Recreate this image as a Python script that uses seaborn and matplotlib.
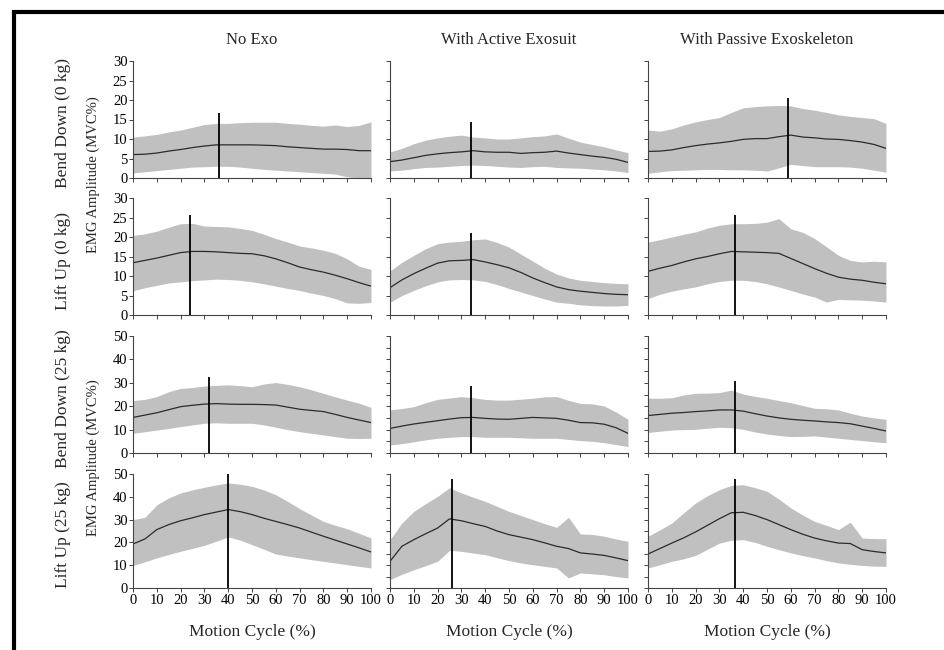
import numpy as np
import pandas as pd
import matplotlib
matplotlib.use("Agg")
import matplotlib.pyplot as plt
import seaborn as sns
from matplotlib.patches import Rectangle

# eje x comun (ciclo de movimiento, cada 5 %)
cycle = [0, 5, 10, 15, 20, 25, 30, 35, 40, 45, 50, 55, 60, 65, 70, 75, 80, 85, 90, 95, 100]

col_titles = ["No Exo", "With Active Exosuit", "With Passive Exoskeleton"]
row_titles = ["Bend Down (0 kg)", "Lift Up (0 kg)", "Bend Down (25 kg)", "Lift Up (25 kg)"]
row_ymax = [30, 30, 50, 50]

# Bend Down (0 kg)
bd0_noexo_mean = [6.0, 6.1, 6.4, 6.9, 7.3, 7.8, 8.2, 8.5, 8.5, 8.5, 8.5, 8.4, 8.3, 8.0, 7.8, 7.6, 7.4, 7.4, 7.3, 7.0, 7.0]
bd0_noexo_up = [10.5, 10.8, 11.2, 11.8, 12.3, 13.0, 13.7, 14.0, 14.0, 14.2, 14.3, 14.3, 14.3, 14.0, 13.8, 13.5, 13.3, 13.6, 13.2, 13.5, 14.4]
bd0_noexo_lo = [1.3, 1.6, 1.9, 2.2, 2.5, 2.8, 2.9, 3.0, 3.0, 2.8, 2.5, 2.2, 2.0, 1.8, 1.6, 1.4, 1.2, 1.0, 0.3, 0.0, 0.0]
bd0_active_mean = [4.2, 4.6, 5.2, 5.8, 6.2, 6.5, 6.7, 7.0, 6.7, 6.6, 6.6, 6.3, 6.5, 6.6, 6.9, 6.4, 6.0, 5.6, 5.3, 4.8, 4.0]
bd0_active_up = [6.7, 7.6, 8.8, 9.7, 10.3, 10.7, 11.0, 10.5, 10.3, 10.0, 10.0, 10.3, 10.6, 10.8, 11.3, 10.2, 9.2, 8.6, 8.0, 7.2, 6.5]
bd0_active_lo = [1.8, 2.0, 2.4, 2.7, 2.8, 3.0, 3.2, 3.3, 3.2, 3.0, 2.8, 2.7, 2.9, 3.0, 2.7, 2.6, 2.5, 2.3, 2.1, 1.8, 1.4]
bd0_passive_mean = [6.8, 6.9, 7.2, 7.8, 8.3, 8.7, 9.0, 9.4, 9.9, 10.1, 10.1, 10.6, 11.0, 10.5, 10.3, 10.0, 9.9, 9.6, 9.2, 8.6, 7.6]
bd0_passive_up = [12.3, 12.0, 12.6, 13.6, 14.4, 15.0, 15.5, 16.8, 18.0, 18.3, 18.5, 18.6, 18.5, 17.8, 17.4, 16.8, 16.2, 15.8, 15.5, 15.2, 14.0]
bd0_passive_lo = [1.2, 1.6, 1.9, 2.0, 2.1, 2.2, 2.2, 2.1, 2.1, 2.0, 1.8, 2.6, 3.5, 3.2, 2.9, 2.9, 2.9, 2.8, 2.5, 2.0, 1.5]

# Lift Up (0 kg)
lu0_noexo_mean = [13.4, 14.0, 14.6, 15.3, 16.0, 16.3, 16.3, 16.2, 16.0, 15.8, 15.7, 15.2, 14.4, 13.4, 12.3, 11.6, 11.0, 10.2, 9.3, 8.3, 7.4]
lu0_noexo_up = [20.4, 20.8, 21.5, 22.5, 23.4, 23.5, 22.8, 22.7, 22.6, 22.2, 21.7, 20.7, 19.6, 18.7, 17.7, 17.2, 16.6, 15.8, 14.4, 12.5, 11.7]
lu0_noexo_lo = [6.2, 7.0, 7.6, 8.2, 8.5, 8.8, 9.0, 9.2, 9.1, 8.9, 8.5, 8.0, 7.4, 6.8, 6.3, 5.6, 5.0, 4.2, 3.1, 3.0, 3.2]
lu0_active_mean = [7.0, 9.0, 10.6, 12.0, 13.3, 13.9, 14.0, 14.2, 13.6, 12.9, 12.1, 10.9, 9.5, 8.3, 7.2, 6.5, 6.1, 5.8, 5.5, 5.3, 5.2]
lu0_active_up = [11.3, 13.5, 15.3, 17.0, 18.3, 18.7, 18.9, 19.3, 19.5, 18.6, 17.4, 15.6, 13.8, 12.0, 10.5, 9.5, 8.9, 8.6, 8.3, 8.1, 8.0]
lu0_active_lo = [3.3, 5.0, 6.3, 7.5, 8.5, 9.0, 9.1, 9.0, 8.6, 7.8, 6.8, 5.9, 5.0, 4.1, 3.3, 3.0, 2.6, 2.4, 2.3, 2.3, 2.5]
lu0_passive_mean = [11.2, 12.0, 12.7, 13.6, 14.4, 15.0, 15.7, 16.3, 16.2, 16.1, 16.0, 15.8, 14.5, 13.2, 11.9, 10.7, 9.7, 9.2, 8.9, 8.4, 8.0]
lu0_passive_up = [18.7, 19.3, 20.0, 20.7, 21.3, 22.3, 23.0, 23.4, 23.4, 23.5, 23.8, 24.7, 22.1, 21.2, 19.6, 17.5, 15.3, 14.0, 13.6, 13.8, 13.6]
lu0_passive_lo = [4.2, 5.3, 6.1, 6.7, 7.2, 8.0, 8.6, 8.9, 8.9, 8.6, 8.0, 7.2, 6.3, 5.4, 4.6, 3.3, 4.0, 3.9, 3.8, 3.6, 3.3]

# Bend Down (25 kg)
bd25_noexo_mean = [15.2, 16.2, 17.2, 18.5, 19.8, 20.4, 20.9, 21.1, 20.9, 20.8, 20.8, 20.7, 20.5, 19.6, 18.7, 18.2, 17.7, 16.5, 15.2, 14.1, 13.0]
bd25_noexo_up = [22.4, 22.9, 24.1, 26.2, 27.6, 28.0, 28.6, 28.9, 29.1, 28.8, 28.3, 29.5, 30.1, 29.3, 28.3, 27.0, 25.5, 24.0, 22.6, 21.3, 19.5]
bd25_noexo_lo = [8.4, 9.1, 9.8, 10.5, 11.3, 12.0, 12.7, 12.9, 12.7, 12.7, 12.7, 12.0, 11.0, 10.0, 9.1, 8.4, 7.7, 7.0, 6.3, 6.2, 6.3]
bd25_active_mean = [10.5, 11.5, 12.4, 13.1, 13.8, 14.5, 15.1, 15.2, 14.8, 14.5, 14.4, 14.8, 15.2, 15.0, 14.8, 14.0, 13.0, 12.9, 12.3, 10.8, 8.4]
bd25_active_up = [18.4, 19.0, 19.8, 21.5, 22.9, 23.5, 24.1, 23.6, 22.9, 22.6, 22.6, 23.0, 23.4, 24.0, 24.1, 22.5, 21.2, 21.0, 20.1, 17.5, 14.4]
bd25_active_lo = [3.4, 4.0, 4.8, 5.6, 6.3, 6.7, 7.0, 7.0, 6.7, 6.7, 6.7, 6.5, 6.3, 6.3, 6.3, 5.8, 5.3, 5.0, 4.4, 3.6, 2.7]
bd25_passive_mean = [16.0, 16.5, 17.0, 17.3, 17.7, 18.0, 18.4, 18.4, 17.9, 16.8, 15.8, 15.0, 14.4, 14.0, 13.7, 13.3, 13.0, 12.5, 11.5, 10.5, 9.4]
bd25_passive_up = [23.4, 23.4, 23.6, 24.8, 25.5, 25.6, 25.8, 26.9, 25.2, 24.2, 23.4, 22.4, 21.5, 20.3, 19.1, 18.9, 18.4, 17.0, 15.8, 15.0, 14.4]
bd25_passive_lo = [8.8, 9.3, 9.8, 10.0, 10.1, 10.6, 11.0, 10.8, 10.1, 9.0, 8.1, 7.5, 7.0, 7.1, 7.3, 6.8, 6.3, 5.8, 5.3, 4.8, 4.4]

# Lift Up (25 kg)
lu25_noexo_mean = [19.3, 21.5, 25.6, 27.8, 29.5, 30.8, 32.2, 33.3, 34.4, 33.5, 32.2, 30.6, 29.2, 27.8, 26.3, 24.5, 22.7, 21.0, 19.3, 17.6, 15.8]
lu25_noexo_up = [30.0, 31.0, 36.5, 39.5, 41.7, 43.0, 44.2, 45.2, 46.1, 45.5, 44.6, 43.0, 40.9, 38.0, 34.8, 32.0, 29.2, 27.5, 26.0, 24.0, 21.9]
lu25_noexo_lo = [9.9, 11.5, 13.2, 14.7, 16.1, 17.4, 18.7, 20.5, 22.4, 21.0, 19.0, 17.0, 14.9, 14.0, 13.2, 12.4, 11.7, 11.0, 10.2, 9.5, 8.8]
lu25_active_mean = [11.7, 18.3, 21.2, 23.8, 26.3, 30.3, 29.5, 28.2, 27.0, 25.0, 23.4, 22.3, 21.2, 19.8, 18.3, 17.3, 15.4, 14.9, 14.3, 13.2, 12.0]
lu25_active_up = [21.2, 28.5, 33.6, 37.0, 40.2, 44.0, 41.7, 39.8, 38.0, 35.8, 33.6, 31.8, 30.0, 28.2, 26.6, 31.0, 23.7, 23.5, 22.7, 21.5, 20.5]
lu25_active_lo = [3.7, 6.0, 8.0, 9.8, 11.7, 16.5, 16.1, 15.3, 14.6, 13.3, 12.0, 11.0, 10.2, 9.5, 8.8, 4.4, 6.6, 6.2, 5.8, 5.0, 4.4]
lu25_passive_mean = [14.9, 17.3, 19.7, 22.0, 24.6, 27.5, 30.4, 33.0, 33.2, 31.8, 30.0, 27.8, 25.6, 23.6, 21.9, 20.7, 19.7, 19.5, 16.8, 16.0, 15.4]
lu25_passive_up = [22.7, 25.5, 28.5, 33.0, 37.3, 40.5, 43.1, 45.0, 45.3, 44.0, 42.4, 39.0, 35.1, 32.0, 29.2, 27.5, 25.6, 28.9, 21.9, 21.7, 21.6]
lu25_passive_lo = [8.8, 10.2, 11.7, 12.8, 14.3, 17.0, 19.7, 20.9, 21.2, 20.0, 18.3, 16.8, 15.4, 14.2, 13.2, 12.0, 11.0, 10.4, 9.9, 9.6, 9.5]

# lineas verticales de pico (posicion y altura)
peak_x = [[36, 34, 59], [24, 34, 36.5], [32, 34, 36.5], [40, 26, 36.5]]
peak_top = [[16.7, 14.3, 20.5], [25.6, 20.9, 25.6], [32.6, 28.6, 30.8], [50.0, 47.7, 47.7]]

series = [
    [(bd0_noexo_mean, bd0_noexo_up, bd0_noexo_lo), (bd0_active_mean, bd0_active_up, bd0_active_lo), (bd0_passive_mean, bd0_passive_up, bd0_passive_lo)],
    [(lu0_noexo_mean, lu0_noexo_up, lu0_noexo_lo), (lu0_active_mean, lu0_active_up, lu0_active_lo), (lu0_passive_mean, lu0_passive_up, lu0_passive_lo)],
    [(bd25_noexo_mean, bd25_noexo_up, bd25_noexo_lo), (bd25_active_mean, bd25_active_up, bd25_active_lo), (bd25_passive_mean, bd25_passive_up, bd25_passive_lo)],
    [(lu25_noexo_mean, lu25_noexo_up, lu25_noexo_lo), (lu25_active_mean, lu25_active_up, lu25_active_lo), (lu25_passive_mean, lu25_passive_up, lu25_passive_lo)],
]

sns.set_style("ticks")
plt.rcParams['font.family'] = ['Liberation Serif', 'DejaVu Serif']

W, H = 944, 650
fig = plt.figure(figsize=(W / 100, H / 100), dpi=100)

col_left = [133, 390, 648]
col_w = 238
row_top = [61, 198, 336, 474]
row_bot = [178, 315, 453, 588]

spine_col = "#444444"
band_col = "#c0c0c0"

for r in range(4):
    for c in range(3):
        rect = [col_left[c] / W, 1 - row_bot[r] / H, col_w / W, (row_bot[r] - row_top[r]) / H]
        ax = fig.add_axes(rect)
        mean, up, lo = series[r][c]
        df = pd.DataFrame({'ciclo': cycle, 'media': mean})
        ax.fill_between(cycle, lo, up, color=band_col, linewidth=0)
        sns.lineplot(data=df, x='ciclo', y='media', ax=ax, color="#2b2b2b", linewidth=0.9)
        ax.vlines(peak_x[r][c], 0, peak_top[r][c], color="black", linewidth=1.3)

        ymax = row_ymax[r]
        ax.set_xlim(0, 100)
        ax.set_ylim(0, ymax)
        ax.set_xticks(range(0, 101, 10))
        if c == 0:
            ax.set_yticks(range(0, ymax + 1, 5 if ymax == 30 else 10))
        else:
            ax.set_yticks(range(0, ymax + 1, 5))
            ax.set_yticklabels([])
        if r < 3:
            ax.set_xticklabels([])
        ax.set_xlabel('')
        ax.set_ylabel('')
        sns.despine(ax=ax)
        for s in ['left', 'bottom']:
            ax.spines[s].set_color(spine_col)
            ax.spines[s].set_linewidth(0.8)
        ax.tick_params(direction='out', length=3, width=0.7, color=spine_col,
                       labelsize=10.5, pad=1, labelcolor='black')
        ax.patch.set_alpha(0)

        if r == 0:
            ax.text(0.5, 1.0 + 21 / 117, col_titles[c], transform=ax.transAxes,
                    ha='center', va='center', fontsize=12)
        if c == 0:
            fig.text(63 / W, 1 - ((row_top[r] + row_bot[r]) / 2 + 4) / H, row_titles[r],
                     rotation=90, ha='center', va='center', fontsize=12.5)

# etiquetas de eje y (una por cada par de filas)
fig.text(93 / W, 1 - 175 / H, 'EMG Amplitude (MVC%)', rotation=90, ha='center', va='center', fontsize=10.5)
fig.text(93 / W, 1 - 458 / H, 'EMG Amplitude (MVC%)', rotation=90, ha='center', va='center', fontsize=10.5)

for c in range(3):
    fig.text((col_left[c] + col_w / 2) / W, 1 - 632 / H, 'Motion Cycle (%)',
             ha='center', va='center', fontsize=12.5)

# marco negro (izquierda y arriba)
fig.patches.append(Rectangle((14 / W, -0.5), 2, 0.5 + 1 - 12 / H, transform=fig.transFigure,
                             fill=False, edgecolor='black', linewidth=3, clip_on=False))

fig.savefig('out.png', dpi=100)
